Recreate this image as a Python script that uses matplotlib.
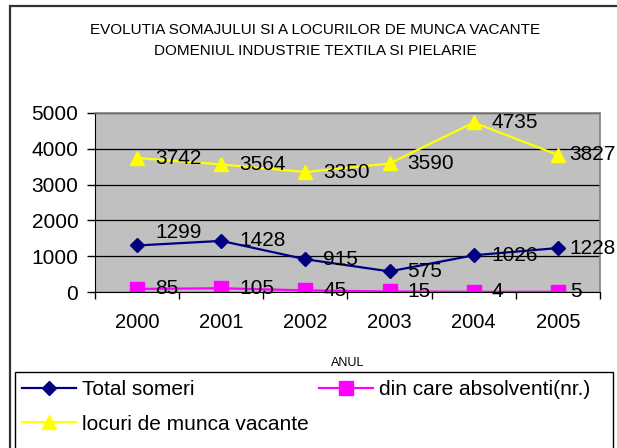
import numpy as np
import matplotlib
matplotlib.use("Agg")
import matplotlib.pyplot as plt
from matplotlib.patches import Rectangle

ani = ["2000", "2001", "2002", "2003", "2004", "2005"]
total_someri = [1299, 1428, 915, 575, 1026, 1228]
absolventi = [85, 105, 45, 15, 4, 5]
locuri_vacante = [3742, 3564, 3350, 3590, 4735, 3827]

plt.rcParams['font.family'] = ['Liberation Sans', 'DejaVu Sans']

W, H = 617, 448
fig = plt.figure(figsize=(W / 100, H / 100), dpi=100)
ax = fig.add_axes([95 / W, 1 - 292 / H, (600 - 95) / W, (292 - 113) / H])
ax.set_facecolor('#c0c0c0')

x = np.arange(len(ani))
l1, = ax.plot(x, total_someri, '-', color='#000080', lw=1.6, marker='D', ms=7,
              label='Total someri')
l2, = ax.plot(x, absolventi, '-', color='#ff00ff', lw=1.6, marker='s', ms=10,
              label='din care absolventi(nr.)')
l3, = ax.plot(x, locuri_vacante, '-', color='#ffff00', lw=1.6, marker='^', ms=9.5,
              label='locuri de munca vacante')

# etichete de date (ultima coloana mai aproape, ca sa nu iasa din figura)
for serie in (total_someri, absolventi, locuri_vacante):
    for i, v in enumerate(serie):
        dx = 8.5 if i == len(ani) - 1 else 13
        dy = 9 if (serie is total_someri and i == 0) else 0
        ax.annotate(str(v), (x[i], v), xytext=(dx, dy), textcoords='offset points',
                    ha='left', va='center', fontsize=15, color='black')

ax.set_xlim(-0.5, len(ani) - 0.5)
ax.set_ylim(0, 5000)
ax.set_yticks(np.arange(0, 5001, 1000))
ax.yaxis.grid(True, color='black', lw=0.9)
ax.set_axisbelow(True)
ax.set_xticks(x)
ax.set_xticklabels(ani)
ax.set_xticks(np.arange(-0.5, len(ani), 1), minor=True)
ax.tick_params(axis='x', which='major', length=0, pad=15, labelsize=14.5)
ax.tick_params(axis='x', which='minor', length=5, direction='out', width=1)
ax.tick_params(axis='y', length=6, direction='out', pad=6, labelsize=15, width=1)
for s in ('top', 'right'):
    ax.spines[s].set_color('#808080')
    ax.spines[s].set_linewidth(1.2)
ax.spines['left'].set_color('black')
ax.spines['bottom'].set_color('black')

ax.set_xlabel('ANUL', fontsize=9, labelpad=18)

fig.text(315 / W, 1 - 30 / H, 'EVOLUTIA SOMAJULUI SI A LOCURILOR DE MUNCA VACANTE',
         ha='center', va='center', fontsize=11)
fig.text(315 / W, 1 - 51 / H, 'DOMENIUL INDUSTRIE TEXTILA SI PIELARIE',
         ha='center', va='center', fontsize=11)

leg = fig.legend(handles=[l1, l3, l2], loc='upper left', ncol=2,
                 bbox_to_anchor=(22 / W, 1 - 380 / H), bbox_transform=fig.transFigure,
                 borderaxespad=0, borderpad=0, fontsize=15, frameon=False,
                 handlelength=2.6, handletextpad=0.3, labelspacing=0.75,
                 columnspacing=0.45)

# chenarul legendei si chenarul graficului
fig.patches.append(Rectangle((15 / W, -0.1), (613 - 15) / W, (448 - 372) / H + 0.1,
                             transform=fig.transFigure, fill=False,
                             edgecolor='black', lw=1))
fig.patches.append(Rectangle((10 / W, -0.1), 1.2, 1 - 6 / H + 0.1, transform=fig.transFigure,
                             fill=False, edgecolor='#333333', lw=1.6))

fig.savefig('out.png', dpi=100)
